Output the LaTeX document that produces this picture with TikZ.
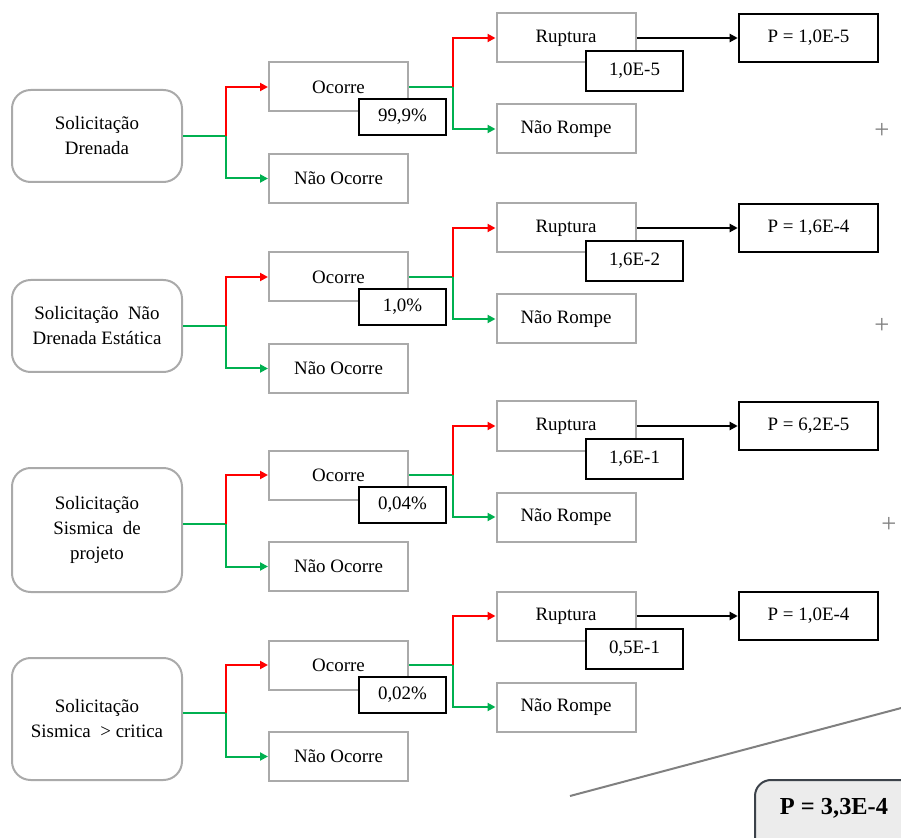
\documentclass[tikz,border=0pt]{standalone}
\usepackage{fontspec}
\setmainfont{Liberation Serif}
\usetikzlibrary{arrows.meta}
\definecolor{bxgray}{RGB}{170,170,170}
\definecolor{lnred}{RGB}{255,0,0}
\definecolor{lngreen}{RGB}{0,176,80}
\definecolor{fingray}{RGB}{236,236,236}
\definecolor{finborder}{RGB}{60,66,74}
\definecolor{plusgray}{RGB}{128,128,128}
\tikzset{
  srcbox/.style={draw=bxgray, line width=1.5pt, rounded corners=14pt, minimum width=127.5pt, align=center, fill=white},
  graybox/.style={draw=bxgray, line width=1.5pt, minimum width=104.25pt, minimum height=36.75pt, fill=white},
  probbox/.style={draw=black, line width=1.9pt, minimum width=65.25pt, minimum height=27pt, fill=white},
  rprobbox/.style={draw=black, line width=1.9pt, minimum width=72.75pt, minimum height=30pt, fill=white},
  pbox/.style={draw=black, line width=1.9pt, minimum width=104.25pt, minimum height=36pt, fill=white},
  redln/.style={draw=lnred, line width=1.5pt},
  greenln/.style={draw=lngreen, line width=1.5pt},
  tip/.style={-{Triangle[length=6pt,width=6pt]}},
  plus/.style={text=plusgray, font=\fontsize{20}{20}\selectfont}
}
\begin{document}
\begin{tikzpicture}[x=0.75pt,y=-0.75pt,font=\fontsize{14.2}{18.75}\selectfont]
\useasboundingbox (0,0) rectangle (901,838);
\clip (0,0) rectangle (901,838);
\foreach \i/\yo/\ys/\hs/\yl/\src/\pa/\pb/\pp in {
  1/87/136/69/136/{Solicitação\\Drenada}/{99,9\%}/{1,0E-5}/{P = 1,0E-5},
  2/277/326/69/326/{Solicitação~ Não\\Drenada Estática}/{1,0\%}/{1,6E-2}/{P = 1,6E-4},
  3/475/530/93/524/{Solicitação\\Sismica~ de\\projeto}/{0,04\%}/{1,6E-1}/{P = 6,2E-5},
  4/665/719/91.5/713/{Solicitação\\Sismica~ > critica}/{0,02\%}/{0,5E-1}/{P = 1,0E-4}}{
  \node[srcbox, minimum height=\hs pt] (src\i) at (97,\ys) {\src};
  \node[graybox] (oc\i) at (338.5,\yo) {Ocorre};
  \node[graybox] (no\i) at (338.5,\yo+91.5) {Não Ocorre};
  \node[graybox] (ru\i) at (566,\yo-49) {Ruptura};
  \node[graybox] (nr\i) at (566,\yo+42) {Não Rompe};
  \node[pbox] (p\i) at (808.5,\yo-49) {\pp};
  \coordinate (j\i) at (226,\yl);
  \coordinate (k\i) at (453,\yo);
  \draw[greenln] (src\i.east |- j\i) -- (j\i);
  \draw[greenln, tip] (j\i) |- (no\i.west);
  \draw[redln, tip] (j\i) |- (oc\i.west);
  \draw[greenln] (oc\i.east) -- (k\i);
  \draw[greenln, tip] (k\i) |- (nr\i.west);
  \draw[redln, tip] (k\i) |- (ru\i.west);
  \draw[line width=1.5pt, tip] (ru\i.east) -- (p\i.west);
  \node[probbox] (pa\i) at (402.5,\yo+30) {\pa};
  \node[rprobbox] (pb\i) at (634.5,\yo-16) {\pb};
}
\node[plus] (plus1) at (882,131) {+};
\node[plus] (plus2) at (882,326) {+};
\node[plus] (plus3) at (889,525) {+};
\coordinate (d1) at (570,796);
\coordinate (d2) at (905,707);
\draw[draw=plusgray, line width=1.5pt] (d1) -- (d2);
\draw[draw=finborder, fill=fingray, line width=1.5pt, rounded corners=12pt] (755,780) rectangle (930,870);
\node[font=\fontsize{18.3}{20}\selectfont\bfseries] (fin) at (834,808) {P = 3,3E-4};
\end{tikzpicture}
\end{document}
